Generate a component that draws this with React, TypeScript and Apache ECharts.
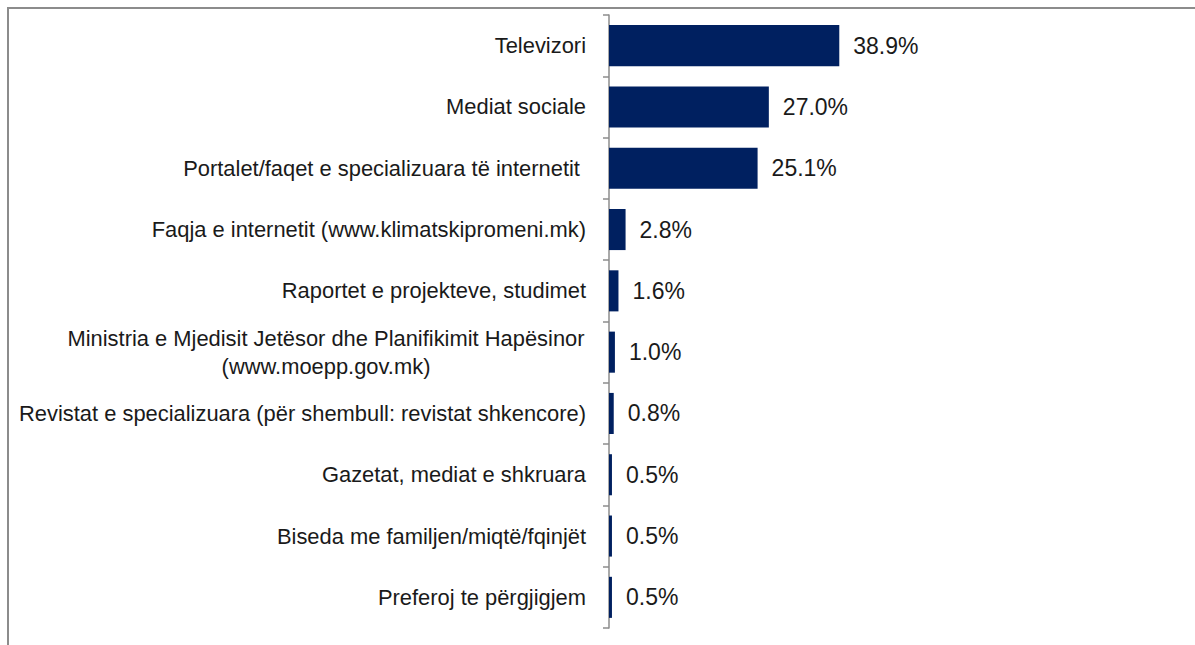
import React, { useEffect, useRef } from "react";
import * as echarts from "echarts";

const categories = [
  "Televizori",
  "Mediat sociale",
  "Portalet/faqet e specializuara të internetit ",
  "Faqja e internetit (www.klimatskipromeni.mk)",
  "Raportet e projekteve, studimet",
  "Ministria e Mjedisit Jetësor dhe Planifikimit Hapësinor\n(www.moepp.gov.mk)",
  "Revistat e specializuara (për shembull: revistat shkencore)",
  "Gazetat, mediat e shkruara",
  "Biseda me familjen/miqtë/fqinjët",
  "Preferoj te përgjigjem",
];

const values = [38.9, 27.0, 25.1, 2.8, 1.6, 1.0, 0.8, 0.5, 0.5, 0.5];

const FONT = "Liberation Sans";
const CAT_SIZE = 21.9;
const VAL_SIZE = 23;

function measure(text: string): number {
  const c = document.createElement("canvas");
  const ctx = c.getContext("2d");
  if (!ctx) return text.length * 10;
  ctx.font = `${CAT_SIZE}px "${FONT}"`;
  return ctx.measureText(text).width;
}

export default function App() {
  const ref = useRef<HTMLDivElement>(null);
  useEffect(() => {
    if (!ref.current) return;
    const chart = echarts.init(ref.current, undefined, { renderer: "svg" });
    const multi = categories.find((c) => c.includes("\n")) || "";
    const multiW = Math.ceil(Math.max(...multi.split("\n").map(measure))) + 2;
    chart.setOption({
      animation: false,
      backgroundColor: "#ffffff",
      graphic: [
        {
          type: "rect",
          shape: { x: 8, y: 8, width: 1300, height: 800 },
          style: { fill: "none", stroke: "#8c8c8c", lineWidth: 2 },
          silent: true,
        },
      ],
      grid: { left: 609, top: 15, bottom: 17, right: 290, containLabel: false },
      xAxis: {
        type: "value",
        min: 0,
        max: 50,
        show: false,
      },
      yAxis: {
        type: "category",
        inverse: true,
        data: categories,
        axisLine: { show: true, lineStyle: { color: "#8c8c8c", width: 1.5 } },
        axisTick: { show: true, length: 6, lineStyle: { color: "#8c8c8c", width: 1.5 } },
        splitLine: { show: false },
        axisLabel: {
          margin: 23,
          color: "#1a1a1a",
          fontFamily: FONT,
          fontSize: CAT_SIZE,
          align: "right",
          formatter: (v: string) => {
            if (v.includes("\n")) {
              return v
                .split("\n")
                .map((l) => `{c|${l}}`)
                .join("\n");
            }
            return v;
          },
          rich: {
            c: {
              width: multiW,
              align: "center",
              fontFamily: FONT,
              fontSize: CAT_SIZE,
              color: "#1a1a1a",
              lineHeight: 28,
            },
          },
        },
      },
      series: [
        {
          type: "bar",
          data: values,
          barWidth: "67%",
          itemStyle: { color: "#002060" },
          label: {
            show: true,
            position: "right",
            distance: 14,
            color: "#1a1a1a",
            fontFamily: FONT,
            fontSize: VAL_SIZE,
            formatter: (p: any) => `${Number(p.value).toFixed(1)}%`,
          },
        },
      ],
    });
    return () => chart.dispose();
  }, []);
  return (
    <div
      ref={ref}
      style={{ position: "absolute", left: 0, top: 0, width: 1195, height: 645, background: "#fff" }}
    />
  );
}
